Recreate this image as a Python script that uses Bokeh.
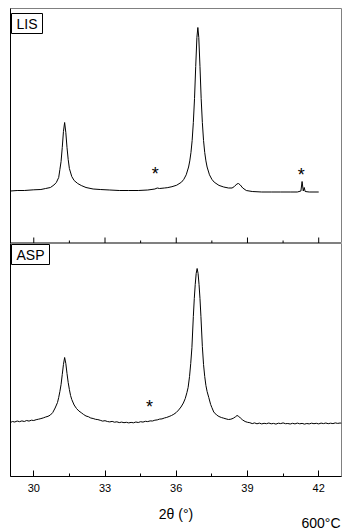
import math
from bokeh.plotting import figure
from bokeh.layouts import column
from bokeh.models import Range1d, FixedTicker, Label
from bokeh.core.properties import value
from bokeh.embed import file_html
from bokeh.resources import INLINE

# ---- data (2theta in degrees, intensity in a.u.) ----
lis_2theta = [29.02, 29.3, 29.6, 30.0, 30.3, 30.5, 30.7, 30.85, 30.95, 31.05, 31.1, 31.15, 31.2, 31.25,
              31.3, 31.35, 31.4, 31.45, 31.5, 31.6, 31.7, 31.85, 32.0, 32.2, 32.5, 32.8, 33.2, 33.6,
              34.0, 34.4, 34.8, 35.1, 35.2, 35.3, 35.5, 35.62, 35.82, 36.02, 36.22, 36.32, 36.42,
              36.52, 36.57, 36.62, 36.67, 36.72, 36.77, 36.82, 36.87, 36.91, 36.95, 37.0, 37.05,
              37.1, 37.15, 37.2, 37.25, 37.3, 37.4, 37.5, 37.6, 37.8, 38.0, 38.2, 38.35, 38.45,
              38.55, 38.62, 38.7, 38.8, 38.95, 39.2, 39.6, 40.0, 40.4, 40.8, 41.1, 41.25, 41.3,
              41.35, 41.39, 41.43, 41.6, 42.0]
lis_intensity = [52.5, 53, 53, 53.7, 54, 55, 56, 58.5, 61, 66, 74, 82, 96, 112,
                 121, 111, 96, 84, 75, 67, 63, 60, 58, 56, 54.5, 54, 53.5, 53,
                 53, 53, 53.5, 54.5, 55.5, 55, 55.5, 55.8, 56.8, 58.3, 61.3, 64.2, 68.7,
                 76.5, 82.6, 91, 103, 121, 145, 177, 206, 216, 206, 177, 145,
                 121, 103, 91, 82.6, 76.5, 68.7, 64.2, 61.3, 58.1, 56.5, 55.5, 55.5, 57,
                 59.5, 60, 58.5, 55.5, 53, 52, 51.5, 51.5, 51.5, 51.5, 51.5, 52.5, 62,
                 52.5, 56, 52, 51.5, 51.5]

asp_2theta = [29.02, 29.1, 29.2, 29.3, 29.4, 29.5, 29.6, 29.7, 29.8, 29.9, 30.0, 30.1, 30.2, 30.3,
              30.4, 30.5, 30.6, 30.7, 30.8, 30.9, 31.0, 31.05, 31.1, 31.15, 31.2, 31.25, 31.3, 31.35,
              31.4, 31.45, 31.5, 31.55, 31.6, 31.7, 31.8, 31.9, 32.0, 32.1, 32.2, 32.3, 32.4, 32.5,
              32.6, 32.7, 32.8, 32.9, 33.0, 33.1, 33.2, 33.3, 33.4, 33.5, 33.6, 33.7, 33.8, 33.9,
              34.0, 34.1, 34.2, 34.3, 34.4, 34.5, 34.6, 34.7, 34.8, 34.9, 35.0, 35.1, 35.2, 35.3,
              35.4, 35.5, 35.6, 35.7, 35.8, 35.9, 36.0, 36.1, 36.2, 36.3, 36.38, 36.45, 36.5, 36.56,
              36.61, 36.66, 36.72, 36.76, 36.8, 36.84, 36.88, 36.92, 36.96, 37.0, 37.04, 37.1, 37.15,
              37.2, 37.25, 37.3, 37.37, 37.45, 37.5, 37.58, 37.7, 37.8, 37.9, 38.0, 38.1, 38.2, 38.3,
              38.4, 38.5, 38.56, 38.62, 38.7, 38.8, 38.9, 39.0, 39.1, 39.2, 39.3, 39.4, 39.5, 39.6,
              39.7, 39.8, 39.9, 40.0, 40.1, 40.2, 40.3, 40.4, 40.5, 40.6, 40.7, 40.8, 40.9, 41.0,
              41.1, 41.2, 41.3, 41.4, 41.5, 41.6, 41.7, 41.8, 41.9, 42.0, 42.1, 42.2, 42.3, 42.4,
              42.5, 42.6, 42.7, 42.8, 42.9, 42.96]
asp_intensity = [54, 55, 54.5, 55.5, 54.8, 55.6, 55, 56, 55.4, 56.3, 56, 56.8, 57.3, 57.9,
                 58.6, 59.5, 60.2, 61.5, 64, 68.5, 74, 79, 85, 92, 102, 112, 119, 113,
                 103, 94, 87, 81, 77, 71.5, 68, 65.5, 63.8, 62, 60.5, 59.8, 58.5, 58,
                 57.2, 56.9, 56.2, 55.4, 55.8, 55, 54.6, 55.1, 54.3, 54.7, 53.9, 54.4, 53.8, 54.2,
                 53.6, 54.1, 53.7, 54.5, 54, 54.8, 54.4, 55.2, 54.9, 55.6, 55.5, 56.3, 56.6, 57.4,
                 57.6, 58.5, 59.1, 60, 61, 62.3, 64, 66.5, 69.5, 73.5, 78, 84, 89, 100,
                 113, 129, 160, 178, 192, 203, 208, 203, 192, 178, 160, 130, 112,
                 100, 91, 85, 79, 72, 69, 64.5, 61.5, 60, 59, 58.3, 57.6, 57, 57.3,
                 58.2, 59.8, 61, 60.4, 58.5, 56.5, 55, 54.2, 53.8, 52.9, 53.6, 52.7, 53.4, 52.6,
                 53.2, 52.8, 53.5, 52.7, 53.1, 52.4, 53.3, 52.9, 53.6, 52.8, 53.0, 52.5, 53.2, 52.6,
                 53.4, 52.7, 53.1, 52.4, 53.0, 52.6, 53.3, 52.8, 53.2, 52.6, 53.4, 52.9, 53.5, 52.8,
                 53.3, 52.9, 53.6, 53.1, 53.5, 53.3]

lis_star_2theta = [35.12, 41.27]
lis_star_intensity = [75, 74]
asp_star_2theta = [34.87]
asp_star_intensity = [75]

major_ticks = [30, 33, 36, 39, 42]
minor_ticks = [31.5, 34.5, 37.5, 40.5]

X_RANGE = (29.02, 42.96)
FONT = "Liberation Sans"


def make_panel(height, ymax, top, bottom, show_labels):
    p = figure(width=349, height=height, x_range=Range1d(*X_RANGE), y_range=Range1d(0, ymax),
               output_backend="svg", toolbar_location=None,
               min_border_left=10, min_border_right=8, min_border_top=top, min_border_bottom=bottom)
    p.grid.visible = False
    p.outline_line_color = "#808080"
    p.outline_line_width = 1
    p.background_fill_color = "white"
    p.border_fill_color = "white"

    xa = p.xaxis[0]
    xa.axis_line_color = "black"
    if show_labels:
        xa.ticker = FixedTicker(ticks=major_ticks, minor_ticks=minor_ticks)
        xa.major_tick_in = 6
        xa.major_tick_out = 0
        xa.minor_tick_in = 3
        xa.minor_tick_out = 0
        xa.major_tick_line_color = "black"
        xa.minor_tick_line_color = "black"
        xa.major_label_text_font = FONT
        xa.major_label_text_font_size = "11px"
        xa.major_label_text_color = "black"
        xa.major_label_standoff = 7
    else:
        # axis line only; its tick marks are drawn below as short vertical dashes
        xa.ticker = FixedTicker(ticks=[], minor_ticks=[])
        xa.major_tick_in = 0
        xa.major_tick_out = 0
        xa.minor_tick_in = 0
        xa.minor_tick_out = 0
        xa.major_label_standoff = 0

    ya = p.yaxis[0]
    ya.ticker = FixedTicker(ticks=[], minor_ticks=[])
    ya.major_tick_in = 0
    ya.major_tick_out = 0
    ya.minor_tick_in = 0
    ya.minor_tick_out = 0
    ya.major_label_standoff = 0
    ya.axis_line_color = "black"
    return p


# ---------------- top panel (LIS) ----------------
top = make_panel(243, 235, 8, 0, False)
# inward tick marks on the shared boundary (half of each dash is clipped by the frame)
top.scatter(major_ticks, [0] * len(major_ticks), marker="dash", angle=math.pi / 2, size=12,
            line_color="black", line_width=1)
top.scatter(minor_ticks, [0] * len(minor_ticks), marker="dash", angle=math.pi / 2, size=6,
            line_color="black", line_width=1)
top.line(lis_2theta, lis_intensity, line_color="black", line_width=1)
top.text(lis_star_2theta, lis_star_intensity, text=["*"] * len(lis_star_2theta),
         text_font=value(FONT), text_font_size="18px", text_align="center",
         text_baseline="middle", y_offset=5, text_color="black")
top.add_layout(Label(x=1, y=230, x_units="screen", y_units="screen", text="LIS",
                     text_font=FONT, text_font_size="14px", text_baseline="top", text_align="left",
                     text_color="black", border_line_color="black", border_line_width=1,
                     background_fill_color="white", padding=(5, 2)))

# ---------------- bottom panel (ASP) ----------------
bot = make_panel(255, 233, 0, 22, True)
bot.line(asp_2theta, asp_intensity, line_color="black", line_width=1)
bot.text(asp_star_2theta, asp_star_intensity, text=["*"] * len(asp_star_2theta),
         text_font=value(FONT), text_font_size="18px", text_align="center",
         text_baseline="middle", y_offset=5, text_color="black")
bot.add_layout(Label(x=1, y=232, x_units="screen", y_units="screen", text="ASP",
                     text_font=FONT, text_font_size="14px", text_baseline="top", text_align="left",
                     text_color="black", border_line_color="black", border_line_width=1,
                     background_fill_color="white", padding=(5, 2)))

# ---------------- axis title strip (its frame is aligned with the panels above) ----------------
foot = figure(width=349, height=34, x_axis_type=None, y_axis_type=None,
              output_backend="svg", toolbar_location=None,
              min_border_left=10, min_border_right=8,
              min_border_top=0, min_border_bottom=0)
foot.grid.visible = False
foot.outline_line_color = None
foot.add_layout(Label(x=165.5, y=19, x_units="screen", y_units="screen", text="2θ (°)",
                      text_font=FONT, text_font_size="14px", text_align="center",
                      text_baseline="middle", text_color="black"))
foot.add_layout(Label(x=330, y=10, x_units="screen", y_units="screen", text="600°C",
                      text_font=FONT, text_font_size="14px", text_align="right",
                      text_baseline="middle", text_color="black"))

layout = column(top, bot, foot, spacing=0)
open("out.html", "w").write(file_html(layout, INLINE))
